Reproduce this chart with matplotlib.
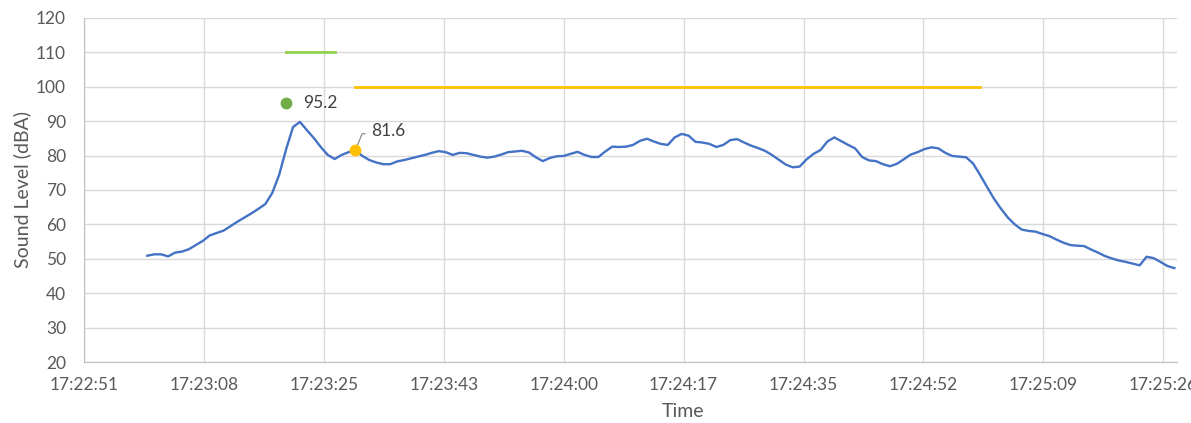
import matplotlib.pyplot as plt
from matplotlib.ticker import FixedLocator, FuncFormatter
import numpy as np

plt.rcParams['font.family'] = ['Lato', 'DejaVu Sans']

# sound level log, one reading per second from 17:23:00
start_time = '17:23:00'
levels = [
    50.9, 51.3, 51.3, 50.7, 51.8, 52.1, 52.8, 54.0, 55.2, 56.8,
    57.5, 58.2, 59.5, 60.8, 62.0, 63.2, 64.5, 65.9, 69.1, 74.4,
    81.8, 88.3, 89.8, 87.4, 85.1, 82.5, 80.2, 79.0, 80.2, 81.0,
    81.6, 79.9, 78.7, 78.0, 77.5, 77.5, 78.3, 78.7, 79.2, 79.7,
    80.2, 80.8, 81.3, 81.0, 80.2, 80.8, 80.7, 80.2, 79.7, 79.4,
    79.7, 80.3, 81.0, 81.2, 81.4, 80.9, 79.5, 78.4, 79.3, 79.8,
    79.9, 80.5, 81.1, 80.2, 79.6, 79.6, 81.2, 82.6, 82.5, 82.6,
    83.1, 84.3, 84.9, 84.1, 83.4, 83.1, 85.3, 86.3, 85.8, 84.0,
    83.8, 83.4, 82.5, 83.1, 84.5, 84.8, 83.8, 82.9, 82.2, 81.4,
    80.2, 78.8, 77.4, 76.6, 76.8, 78.9, 80.5, 81.6, 84.1, 85.3,
    84.2, 83.1, 82.1, 79.6, 78.6, 78.4, 77.5, 76.9, 77.6, 78.9,
    80.3, 81.0, 81.9, 82.4, 82.1, 80.8, 79.9, 79.7, 79.5, 77.7,
    74.4, 70.9, 67.5, 64.6, 62.0, 60.0, 58.5, 58.1, 57.9, 57.2,
    56.6, 55.6, 54.7, 54.0, 53.8, 53.7, 52.7, 51.8, 50.8, 50.1,
    49.5, 49.1, 48.6, 48.1, 50.6, 50.2, 49.1, 47.9, 47.3,
]

# peak event (green) and exposure event (orange)
peak_time, peak_level = '17:23:20', 95.2
peak_span, peak_limit = ('17:23:20', '17:23:27'), 110
event_time, event_level = '17:23:30', 81.6
event_span, event_limit = ('17:23:30', '17:25:00'), 100


def to_sec(s):
    h, m, sec = (int(p) for p in s.split(':'))
    return h * 3600 + m * 60 + sec


def fmt_time(v, pos=None):
    v = int(round(v))
    return f'{v // 3600}:{v % 3600 // 60:02d}:{v % 60:02d}'


t = to_sec(start_time) + np.arange(len(levels))

blue = '#4472C4'
green = '#70AD47'
light_green = '#92D050'
gold = '#FFC000'
grid_c = '#D9D9D9'
text_c = '#595959'

fig = plt.figure(figsize=(11.91, 4.23), dpi=100)
ax = fig.add_axes([84 / 1191, 1 - 362 / 423, 1093 / 1191, 344 / 423])

ax.plot(t, levels, color=blue, lw=1.7, zorder=3)

ax.plot([to_sec(s) for s in peak_span], [peak_limit] * 2, color=light_green, lw=2, zorder=2)
ax.plot([to_sec(s) for s in event_span], [event_limit] * 2, color=gold, lw=2, zorder=2)

ax.plot(to_sec(peak_time), peak_level, 'o', color=green, ms=8.5, mec='none', zorder=4)
ax.plot(to_sec(event_time), event_level, 'o', color=gold, ms=8.5, mec='none', zorder=4)

ax.annotate(f'{peak_level}', (to_sec(peak_time), peak_level), xytext=(12, 0),
            textcoords='offset points', va='center', ha='left', fontsize=12.5, color='#404040')
ax.annotate(f'{event_level}', (to_sec(event_time), event_level), xytext=(11, 13.5),
            textcoords='offset points', va='center', ha='left', fontsize=12.5, color='#404040',
            arrowprops=dict(arrowstyle='-', color='#7F7F7F', lw=0.8, shrinkA=2, shrinkB=4,
                            relpos=(0, 0.35),
                            connectionstyle='angle,angleA=180,angleB=68,rad=0'))

# Excel-style major unit of 0.0002 days
day = 86400
ticks = np.arange(0.7242, 0.72605, 0.0002) * day
ax.xaxis.set_major_locator(FixedLocator(ticks))
ax.xaxis.set_major_formatter(FuncFormatter(fmt_time))
ax.set_xlim(0.7242 * day, 0.7242 * day + 157.5)
ax.set_ylim(20, 120)
ax.set_yticks(np.arange(20, 121, 10))

ax.grid(True, color=grid_c, lw=1)
ax.set_axisbelow(True)
for side in ['top', 'right']:
    ax.spines[side].set_visible(False)
for side in ['left', 'bottom']:
    ax.spines[side].set_color('#BFBFBF')
ax.tick_params(length=0, labelsize=12.5, labelcolor=text_c)
ax.tick_params(axis='y', pad=13)
ax.tick_params(axis='x', pad=11)

ax.set_ylabel('Sound Level (dBA)', fontsize=14, color=text_c)
ax.yaxis.set_label_coords(-0.048, 0.5)
ax.set_xlabel('Time', fontsize=14, color=text_c)
ax.xaxis.set_label_coords(0.548, -0.12)

fig.savefig('out.png', dpi=100)
